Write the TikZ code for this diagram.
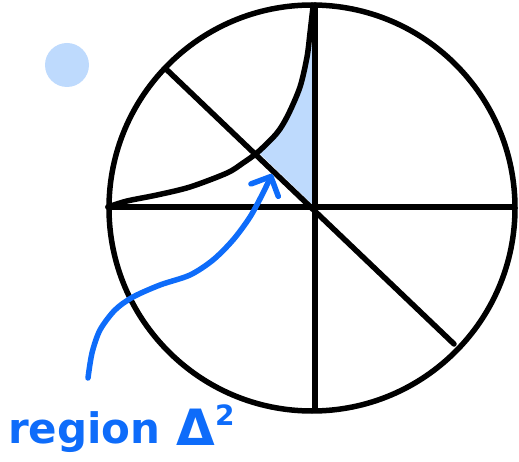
\documentclass[tikz,border=0pt]{standalone}
\usepackage{fontspec}
\usetikzlibrary{arrows.meta}
\newfontfamily\handfont{DejaVu Sans}
\definecolor{regblue}{RGB}{190,218,253}
\definecolor{penblue}{RGB}{14,108,250}
\tikzset{
  pen/.style={line width=5.5pt, line cap=round, line join=round},
  lbl/.style={text=penblue, inner sep=0pt, anchor=base west, font=\handfont\bfseries}
}
\begin{document}
\begin{tikzpicture}[x=1pt, y=-1pt, >={Straight Barb[round,length=15pt,width=30pt]}]
        \useasboundingbox (0,0) rectangle (519,462);
        % Punti principali
        \coordinate (O) at (315,207);
        \coordinate (W) at (108,207);
        \coordinate (E) at (512,207);
        \coordinate (N) at (315,5);
        \coordinate (S) at (315,410);
        \coordinate (NW) at (166,69);
        \coordinate (SE) at (454,344);
        \coordinate (I) at (258,152);

        % Regione colorata
        \fill[regblue] plot[smooth] coordinates {(I) (277,133) (288,115) (300,87) (307,57) (311,45)}
            -- (315,45) -- (O) -- cycle;

        % Pallino in alto
        \fill[regblue] (67,65) circle (22);

        % Cerchio e raggi
        \draw[pen] (312,208) circle (203);
        \draw[pen] (W) -- (E);
        \draw[pen] (N) -- (S);
        \draw[pen] (NW) -- (SE);

        % Curva
        \draw[pen] plot[smooth] coordinates {(W) (127,201) (157,195) (190,187) (227,173) (243,163)
            (I) (277,133) (288,115) (300,87) (307,57) (310,33) (313,7)};

        % Freccia e scritta
        \coordinate (tail) at (88,378);
        \coordinate (tip) at (272,174);
        \draw[pen, penblue, ->] plot[smooth] coordinates {(tail) (92,353) (100,330) (115,310) (133,297)
            (160,285) (190,275) (213,260) (233,240) (250,217) (263,193) (tip)};
        \node[lbl, font=\handfont\bfseries\fontsize{42}{42}\selectfont] (word) at (8,443) {region};
        \node[lbl, font=\handfont\bfseries\fontsize{50}{50}\selectfont] (delta) at (176,445) {Δ};
        \node[lbl, font=\handfont\bfseries\fontsize{28}{28}\selectfont] (sq) at (215,425) {2};
    \end{tikzpicture}
\end{document}
